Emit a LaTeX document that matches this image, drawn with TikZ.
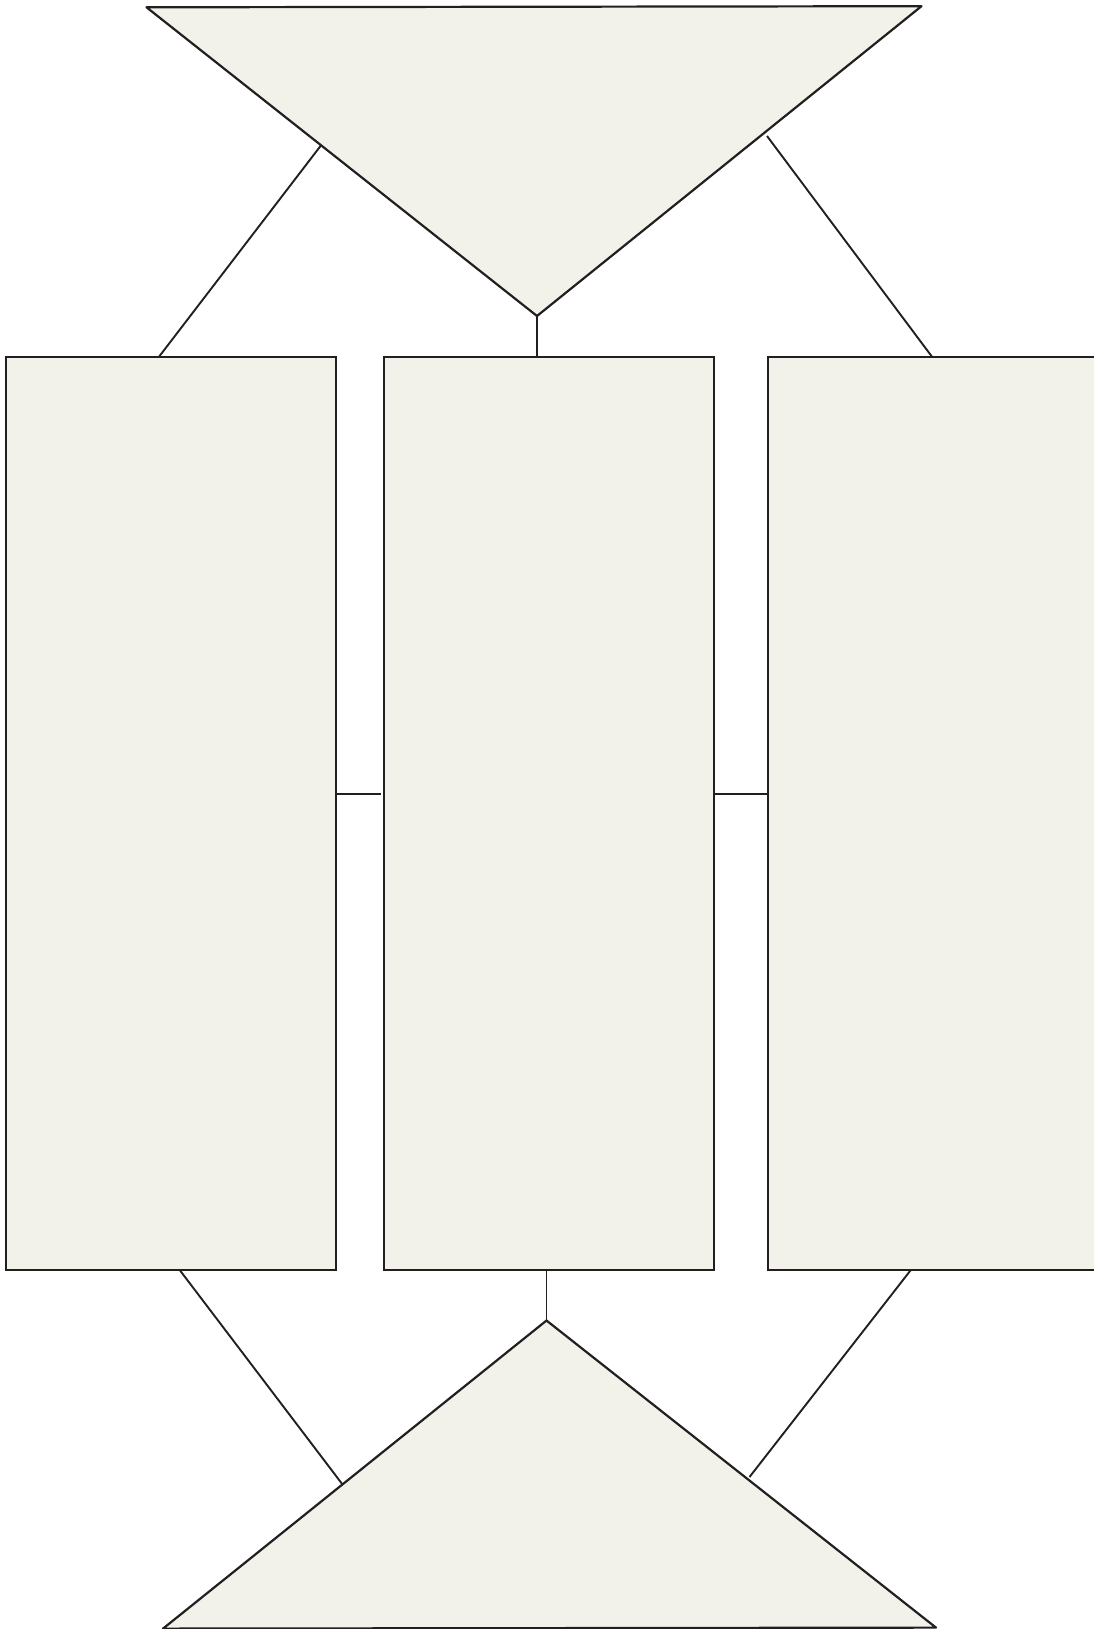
\documentclass[tikz,border=0pt]{standalone}
\usetikzlibrary{calc}
\definecolor{fillc}{RGB}{242,242,234}
\definecolor{linec}{RGB}{35,31,32}
\begin{document}
\begin{tikzpicture}[x=1pt,y=-1pt,
  tri/.style={draw=linec, fill=fillc, line width=2.2pt, line join=round},
  box/.style={draw=linec, fill=fillc, line width=2pt, rectangle, inner sep=0pt, outer sep=0pt,
    anchor=north west, minimum width=329.4pt, minimum height=913.5pt},
  conn/.style={draw=linec, line width=1.9pt}]
\useasboundingbox (0,0) rectangle (1093,1629);
% top triangle
\coordinate (TL) at (146.5,7.3);
\coordinate (TR) at (921.5,6.2);
\coordinate (TA) at (537,316);
\draw[tri] (TL) -- (TR) -- (TA) -- cycle;
% bottom triangle
\coordinate (BA) at (546.5,1320.5);
\coordinate (BL) at (163,1628.6);
\coordinate (BR) at (936,1627.6);
\draw[tri] (BA) -- (BR) -- (BL) -- cycle;
% boxes
\node[box] (L) at (6.2,356.5) {};
\node[box] (M) at (384.4,356.5) {};
\node[box] (R) at (767.8,356.5) {};
% connector coordinates
\coordinate (tl1) at ($(TL)!0.447!(TA)$);
\coordinate (tr1) at (767,136);
\coordinate (bl1) at ($(BA)!0.532!(BL)$);
\coordinate (br1) at (749.5,1477);
\coordinate (hy) at (0,794);
\coordinate (mw) at ([xshift=-3pt]M.west);
% connectors
\draw[conn] (tl1) -- ([xshift=153pt]L.north west);
\draw[conn] (tr1) -- ([xshift=164pt]R.north west);
\draw[conn] (TA) -- (TA |- M.north);
\draw[conn] (L.east |- hy) -- (mw |- hy);
\draw[conn] (M.east |- hy) -- (R.west |- hy);
\draw[conn] ([xshift=173.5pt]L.south west) -- (bl1);
\draw[conn] ([xshift=143pt]R.south west) -- (br1);
\draw[conn] (BA |- M.south) -- (BA);
\end{tikzpicture}
\end{document}
